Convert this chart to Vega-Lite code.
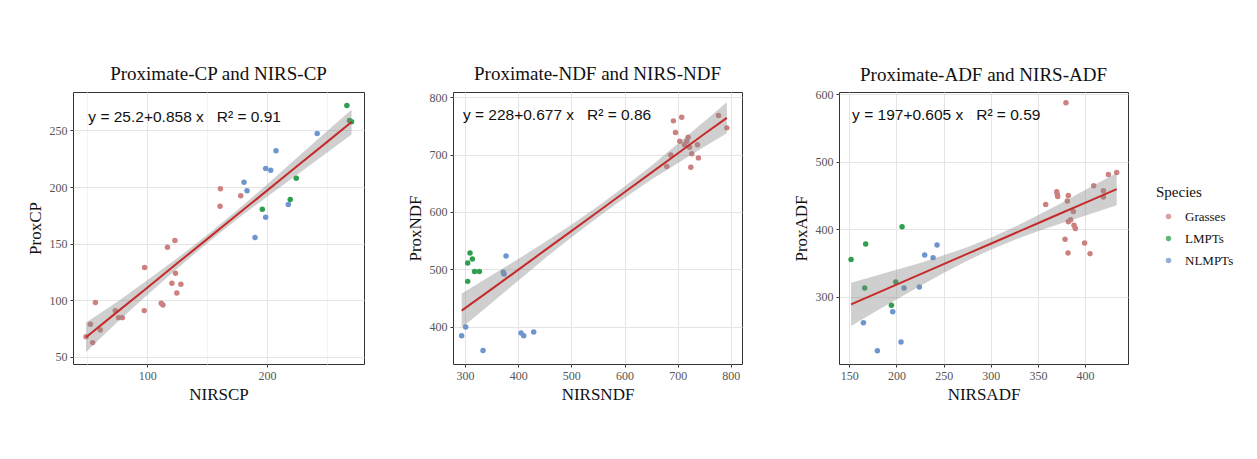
{
  "$schema": "https://vega.github.io/schema/vega-lite/v6.json",
  "background": "white",
  "padding": {"left": 25, "top": 64, "right": 5, "bottom": 5},
  "datasets": {
    "cp": [
      {"nirs": 48.9, "prox": 67.7, "species": "Grasses"},
      {"nirs": 52.5, "prox": 78.6, "species": "Grasses"},
      {"nirs": 54.4, "prox": 62.4, "species": "Grasses"},
      {"nirs": 56.7, "prox": 97.8, "species": "Grasses"},
      {"nirs": 60.8, "prox": 73.6, "species": "Grasses"},
      {"nirs": 73.3, "prox": 90.7, "species": "Grasses"},
      {"nirs": 76.1, "prox": 84.5, "species": "Grasses"},
      {"nirs": 79.2, "prox": 84.5, "species": "Grasses"},
      {"nirs": 97.5, "prox": 90.7, "species": "Grasses"},
      {"nirs": 97.8, "prox": 128.8, "species": "Grasses"},
      {"nirs": 111.7, "prox": 97.2, "species": "Grasses"},
      {"nirs": 113.1, "prox": 95.7, "species": "Grasses"},
      {"nirs": 116.9, "prox": 146.8, "species": "Grasses"},
      {"nirs": 120.6, "prox": 114.9, "species": "Grasses"},
      {"nirs": 123.1, "prox": 152.7, "species": "Grasses"},
      {"nirs": 123.6, "prox": 123.7, "species": "Grasses"},
      {"nirs": 124.7, "prox": 106.3, "species": "Grasses"},
      {"nirs": 128.1, "prox": 114.0, "species": "Grasses"},
      {"nirs": 160.8, "prox": 183.0, "species": "Grasses"},
      {"nirs": 161.1, "prox": 198.4, "species": "Grasses"},
      {"nirs": 178.1, "prox": 192.2, "species": "Grasses"},
      {"nirs": 180.8, "prox": 204.3, "species": "NLMPTs"},
      {"nirs": 183.3, "prox": 196.6, "species": "NLMPTs"},
      {"nirs": 190.0, "prox": 155.3, "species": "NLMPTs"},
      {"nirs": 198.9, "prox": 216.4, "species": "NLMPTs"},
      {"nirs": 198.9, "prox": 173.3, "species": "NLMPTs"},
      {"nirs": 203.1, "prox": 214.9, "species": "NLMPTs"},
      {"nirs": 207.5, "prox": 232.0, "species": "NLMPTs"},
      {"nirs": 217.8, "prox": 184.5, "species": "NLMPTs"},
      {"nirs": 241.9, "prox": 247.3, "species": "NLMPTs"},
      {"nirs": 196.1, "prox": 180.4, "species": "LMPTs"},
      {"nirs": 219.4, "prox": 188.9, "species": "LMPTs"},
      {"nirs": 224.4, "prox": 207.8, "species": "LMPTs"},
      {"nirs": 266.7, "prox": 272.1, "species": "LMPTs"},
      {"nirs": 268.9, "prox": 258.8, "species": "LMPTs"},
      {"nirs": 270.6, "prox": 257.7, "species": "LMPTs"}
    ],
    "cpband": [
      {"nirs": 48.9, "fit": 67.2, "lo": 54.2, "hi": 80.2},
      {"nirs": 75, "fit": 89.6, "lo": 80.6, "hi": 98.6},
      {"nirs": 100, "fit": 111.0, "lo": 104.5, "hi": 117.5},
      {"nirs": 125, "fit": 132.5, "lo": 128.0, "hi": 137.0},
      {"nirs": 150, "fit": 153.9, "lo": 150.2, "hi": 157.6},
      {"nirs": 175, "fit": 175.4, "lo": 171.4, "hi": 179.4},
      {"nirs": 200, "fit": 196.8, "lo": 191.3, "hi": 202.3},
      {"nirs": 225, "fit": 218.3, "lo": 210.8, "hi": 225.8},
      {"nirs": 250, "fit": 239.7, "lo": 230.2, "hi": 249.2},
      {"nirs": 270.6, "fit": 257.4, "lo": 246.4, "hi": 268.4}
    ],
    "ndf": [
      {"nirs": 309.4, "prox": 528.5, "species": "LMPTs"},
      {"nirs": 313.8, "prox": 518, "species": "LMPTs"},
      {"nirs": 305, "prox": 511, "species": "LMPTs"},
      {"nirs": 318, "prox": 496, "species": "LMPTs"},
      {"nirs": 327, "prox": 496, "species": "LMPTs"},
      {"nirs": 305, "prox": 479, "species": "LMPTs"},
      {"nirs": 377.2, "prox": 523.3, "species": "NLMPTs"},
      {"nirs": 372, "prox": 494.8, "species": "NLMPTs"},
      {"nirs": 373.4, "prox": 491.9, "species": "NLMPTs"},
      {"nirs": 301.3, "prox": 399.4, "species": "NLMPTs"},
      {"nirs": 293.7, "prox": 384.3, "species": "NLMPTs"},
      {"nirs": 333.9, "prox": 358.7, "species": "NLMPTs"},
      {"nirs": 405.4, "prox": 389, "species": "NLMPTs"},
      {"nirs": 410.4, "prox": 384.3, "species": "NLMPTs"},
      {"nirs": 429.2, "prox": 390.7, "species": "NLMPTs"},
      {"nirs": 692, "prox": 758.7, "species": "Grasses"},
      {"nirs": 707.6, "prox": 765.1, "species": "Grasses"},
      {"nirs": 695.9, "prox": 738.4, "species": "Grasses"},
      {"nirs": 704, "prox": 723.3, "species": "Grasses"},
      {"nirs": 679.5, "prox": 679, "species": "Grasses"},
      {"nirs": 687, "prox": 699.4, "species": "Grasses"},
      {"nirs": 717.2, "prox": 723.3, "species": "Grasses"},
      {"nirs": 719.7, "prox": 730.2, "species": "Grasses"},
      {"nirs": 722.2, "prox": 712.8, "species": "Grasses"},
      {"nirs": 726.5, "prox": 701.2, "species": "Grasses"},
      {"nirs": 724.7, "prox": 677.9, "species": "Grasses"},
      {"nirs": 737.3, "prox": 716.9, "species": "Grasses"},
      {"nirs": 739, "prox": 694.2, "species": "Grasses"},
      {"nirs": 776.8, "prox": 768, "species": "Grasses"},
      {"nirs": 792.5, "prox": 746.5, "species": "Grasses"},
      {"nirs": 712.8, "prox": 716.9, "species": "Grasses"}
    ],
    "ndfband": [
      {"nirs": 293.7, "fit": 428, "lo": 398, "hi": 458},
      {"nirs": 350, "fit": 465.5, "lo": 441.5, "hi": 489.5},
      {"nirs": 400, "fit": 499, "lo": 480, "hi": 518},
      {"nirs": 450, "fit": 533, "lo": 519, "hi": 547},
      {"nirs": 500, "fit": 566.5, "lo": 555.5, "hi": 577.5},
      {"nirs": 550, "fit": 600.4, "lo": 590.9, "hi": 609.9},
      {"nirs": 600, "fit": 634.2, "lo": 624.2, "hi": 644.2},
      {"nirs": 650, "fit": 668.1, "lo": 656.1, "hi": 680.1},
      {"nirs": 700, "fit": 701.9, "lo": 684.9, "hi": 718.9},
      {"nirs": 750, "fit": 735.8, "lo": 713.8, "hi": 757.8},
      {"nirs": 792.5, "fit": 764, "lo": 737, "hi": 791}
    ],
    "adf": [
      {"nirs": 151.8, "prox": 355, "species": "LMPTs"},
      {"nirs": 167.3, "prox": 378, "species": "LMPTs"},
      {"nirs": 166.3, "prox": 313, "species": "LMPTs"},
      {"nirs": 205.9, "prox": 403.7, "species": "LMPTs"},
      {"nirs": 194.6, "prox": 287.6, "species": "LMPTs"},
      {"nirs": 199.2, "prox": 322, "species": "LMPTs"},
      {"nirs": 164.9, "prox": 261.5, "species": "NLMPTs"},
      {"nirs": 179.7, "prox": 220.2, "species": "NLMPTs"},
      {"nirs": 196, "prox": 277.7, "species": "NLMPTs"},
      {"nirs": 204.8, "prox": 233, "species": "NLMPTs"},
      {"nirs": 208, "prox": 313, "species": "NLMPTs"},
      {"nirs": 224.3, "prox": 314.6, "species": "NLMPTs"},
      {"nirs": 229.9, "prox": 361.9, "species": "NLMPTs"},
      {"nirs": 238.8, "prox": 357.9, "species": "NLMPTs"},
      {"nirs": 243, "prox": 376.6, "species": "NLMPTs"},
      {"nirs": 379.8, "prox": 587.2, "species": "Grasses"},
      {"nirs": 358.3, "prox": 436.7, "species": "Grasses"},
      {"nirs": 370, "prox": 455.4, "species": "Grasses"},
      {"nirs": 370.6, "prox": 451.4, "species": "Grasses"},
      {"nirs": 371, "prox": 448.5, "species": "Grasses"},
      {"nirs": 382.3, "prox": 450, "species": "Grasses"},
      {"nirs": 381.2, "prox": 441.6, "species": "Grasses"},
      {"nirs": 387.6, "prox": 426.3, "species": "Grasses"},
      {"nirs": 384.8, "prox": 414, "species": "Grasses"},
      {"nirs": 382.3, "prox": 411, "species": "Grasses"},
      {"nirs": 388.3, "prox": 406, "species": "Grasses"},
      {"nirs": 389.7, "prox": 401, "species": "Grasses"},
      {"nirs": 378.8, "prox": 385, "species": "Grasses"},
      {"nirs": 382, "prox": 364.8, "species": "Grasses"},
      {"nirs": 399.6, "prox": 379.6, "species": "Grasses"},
      {"nirs": 405.3, "prox": 363.8, "species": "Grasses"},
      {"nirs": 409.2, "prox": 464.2, "species": "Grasses"},
      {"nirs": 419.5, "prox": 456.8, "species": "Grasses"},
      {"nirs": 419.5, "prox": 447.5, "species": "Grasses"},
      {"nirs": 424.8, "prox": 480.9, "species": "Grasses"},
      {"nirs": 433.6, "prox": 483.9, "species": "Grasses"}
    ],
    "adfband": [
      {"nirs": 151.8, "fit": 288.8, "lo": 256.8, "hi": 320.8},
      {"nirs": 175, "fit": 302.9, "lo": 275.9, "hi": 329.9},
      {"nirs": 200, "fit": 318, "lo": 296, "hi": 340},
      {"nirs": 225, "fit": 333.1, "lo": 316.1, "hi": 350.1},
      {"nirs": 250, "fit": 348.3, "lo": 335.3, "hi": 361.3},
      {"nirs": 275, "fit": 363.4, "lo": 353.4, "hi": 373.4},
      {"nirs": 300, "fit": 378.5, "lo": 369.5, "hi": 387.5},
      {"nirs": 325, "fit": 393.6, "lo": 384.1, "hi": 403.1},
      {"nirs": 350, "fit": 408.8, "lo": 396.8, "hi": 420.8},
      {"nirs": 375, "fit": 423.9, "lo": 408.9, "hi": 438.9},
      {"nirs": 400, "fit": 439, "lo": 420, "hi": 458},
      {"nirs": 433.6, "fit": 459.3, "lo": 435.3, "hi": 483.3}
    ]
  },
  "bounds": "flush",
  "spacing": 89,
  "resolve": {"scale": {"color": "independent"}},
  "hconcat": [
    {
      "width": 291, "height": 272,
      "title": {"text": "Proximate-CP and NIRS-CP"},
      "resolve": {"axis": {"y": "independent"}},
      "layer": [
        {
          "data": {"name": "cp"},
          "mark": {"type": "circle", "size": 30, "opacity": 1},
          "encoding": {
            "x": {"field": "nirs", "type": "quantitative", "scale": {"domain": [38, 281], "nice": false, "zero": false},
              "axis": {"title": "NIRSCP", "values": [50, 100, 150, 200, 250],
                "labelExpr": "datum.value % 100 == 0 ? datum.label : ''",
                "tickOpacity": {"condition": {"test": "datum.value % 100 == 0", "value": 1}, "value": 0},
                "gridColor": {"condition": {"test": "datum.value % 100 == 0", "value": "#e4e4e4"}, "value": "#f2f2f2"}}},
            "y": {"field": "prox", "type": "quantitative", "scale": {"domain": [43.5, 284], "nice": false, "zero": false},
              "axis": {"title": "ProxCP", "values": [50, 100, 150, 200, 250]}},
            "color": {"field": "species", "type": "nominal", "scale": {"domain": ["Grasses", "LMPTs", "NLMPTs"], "range": ["#cd8080", "#2f9e4f", "#6e95cf"]}, "legend": null}
          }
        },
        {
          "data": {"name": "cpband"},
          "mark": {"type": "area", "color": "#888888", "opacity": 0.4},
          "encoding": {
            "x": {"field": "nirs", "type": "quantitative"},
            "y": {"field": "lo", "type": "quantitative", "axis": {"orient": "right", "values": [75, 125, 175, 225, 275], "title": null, "labels": false, "ticks": false, "domain": false, "gridColor": "#f2f2f2", "minExtent": 0}},
            "y2": {"field": "hi"}}
        },
        {
          "data": {"name": "cpband"},
          "mark": {"type": "line", "color": "#c62a2a", "strokeWidth": 2},
          "encoding": {"x": {"field": "nirs", "type": "quantitative"}, "y": {"field": "fit", "type": "quantitative", "axis": null}}
        },
        {
          "data": {"values": [{"nirs": 50.8, "prox": 261.5, "label": "y = 25.2+0.858 x\u00a0\u00a0\u00a0R² = 0.91"}]},
          "mark": {"type": "text", "align": "left", "baseline": "middle", "font": "Liberation Sans", "fontSize": 15.5, "color": "#111"},
          "encoding": {"x": {"field": "nirs", "type": "quantitative"}, "y": {"field": "prox", "type": "quantitative", "axis": null}, "text": {"field": "label"}}
        }
      ]
    },
    {
      "bounds": "flush",
      "spacing": 97,
      "resolve": {"scale": {"color": "independent"}},
      "hconcat": [
        {
          "width": 289, "height": 272,
          "title": {"text": "Proximate-NDF and NIRS-NDF", "dy": 1},
          "resolve": {"axis": {"y": "independent"}},
          "layer": [
            {
              "data": {"name": "ndf"},
              "mark": {"type": "circle", "size": 30, "opacity": 1},
              "encoding": {
                "x": {"field": "nirs", "type": "quantitative", "scale": {"domain": [277.4, 821], "nice": false, "zero": false},
                  "axis": {"title": "NIRSNDF", "values": [300, 350, 400, 450, 500, 550, 600, 650, 700, 750, 800],
                    "labelExpr": "datum.value % 100 == 0 ? datum.label : ''",
                    "tickOpacity": {"condition": {"test": "datum.value % 100 == 0", "value": 1}, "value": 0},
                    "gridColor": {"condition": {"test": "datum.value % 100 == 0", "value": "#e4e4e4"}, "value": "#f2f2f2"}}},
                "y": {"field": "prox", "type": "quantitative", "scale": {"domain": [335, 809], "nice": false, "zero": false},
                  "axis": {"title": "ProxNDF", "values": [400, 500, 600, 700, 800]}},
                "color": {"field": "species", "type": "nominal", "scale": {"domain": ["Grasses", "LMPTs", "NLMPTs"], "range": ["#cd8080", "#2f9e4f", "#6e95cf"]}, "legend": null}
              }
            },
            {
              "data": {"name": "ndfband"},
              "mark": {"type": "area", "color": "#888888", "opacity": 0.4},
              "encoding": {
                "x": {"field": "nirs", "type": "quantitative"},
                "y": {"field": "lo", "type": "quantitative", "axis": {"orient": "right", "values": [350, 450, 550, 650, 750], "title": null, "labels": false, "ticks": false, "domain": false, "gridColor": "#f2f2f2", "minExtent": 0}},
                "y2": {"field": "hi"}}
            },
            {
              "data": {"name": "ndfband"},
              "mark": {"type": "line", "color": "#c62a2a", "strokeWidth": 2},
              "encoding": {"x": {"field": "nirs", "type": "quantitative"}, "y": {"field": "fit", "type": "quantitative", "axis": null}}
            },
            {
              "data": {"values": [{"nirs": 296, "prox": 769, "label": "y = 228+0.677 x\u00a0\u00a0\u00a0R² = 0.86"}]},
              "mark": {"type": "text", "align": "left", "baseline": "middle", "font": "Liberation Sans", "fontSize": 15.5, "color": "#111"},
              "encoding": {"x": {"field": "nirs", "type": "quantitative"}, "y": {"field": "prox", "type": "quantitative", "axis": null}, "text": {"field": "label"}}
            }
          ]
        },
        {
          "width": 289, "height": 272,
          "title": {"text": "Proximate-ADF and NIRS-ADF", "dy": 4.5},
          "resolve": {"axis": {"y": "independent"}},
          "layer": [
            {
              "data": {"name": "adf"},
              "mark": {"type": "circle", "size": 30, "opacity": 1},
              "encoding": {
                "x": {"field": "nirs", "type": "quantitative", "scale": {"domain": [139, 445.6], "nice": false, "zero": false},
                  "axis": {"title": "NIRSADF", "values": [150, 175, 200, 225, 250, 275, 300, 325, 350, 375, 400, 425],
                    "labelExpr": "datum.value % 50 == 0 ? datum.label : ''",
                    "tickOpacity": {"condition": {"test": "datum.value % 50 == 0", "value": 1}, "value": 0},
                    "gridColor": {"condition": {"test": "datum.value % 50 == 0", "value": "#e4e4e4"}, "value": "#f2f2f2"}}},
                "y": {"field": "prox", "type": "quantitative", "scale": {"domain": [200.5, 603], "nice": false, "zero": false},
                  "axis": {"title": "ProxADF", "values": [200, 300, 400, 500, 600]}},
                "color": {"field": "species", "type": "nominal", "title": "Species", "scale": {"domain": ["Grasses", "LMPTs", "NLMPTs"], "range": ["#cd8080", "#2f9e4f", "#6e95cf"]},
                  "legend": {"orient": "none", "legendX": 317, "legendY": 93, "padding": 0, "symbolOffset": 6, "labelOffset": 10, "titlePadding": 10, "rowPadding": 8, "symbolSize": 30, "symbolOpacity": 0.75}}
              }
            },
            {
              "data": {"name": "adfband"},
              "mark": {"type": "area", "color": "#888888", "opacity": 0.4},
              "encoding": {
                "x": {"field": "nirs", "type": "quantitative"},
                "y": {"field": "lo", "type": "quantitative", "axis": {"orient": "right", "values": [250, 350, 450, 550], "title": null, "labels": false, "ticks": false, "domain": false, "gridColor": "#f2f2f2", "minExtent": 0}},
                "y2": {"field": "hi"}}
            },
            {
              "data": {"name": "adfband"},
              "mark": {"type": "line", "color": "#c62a2a", "strokeWidth": 2},
              "encoding": {"x": {"field": "nirs", "type": "quantitative"}, "y": {"field": "fit", "type": "quantitative", "axis": null}}
            },
            {
              "data": {"values": [{"nirs": 152.9, "prox": 569, "label": "y = 197+0.605 x\u00a0\u00a0\u00a0R² = 0.59"}]},
              "mark": {"type": "text", "align": "left", "baseline": "middle", "font": "Liberation Sans", "fontSize": 15.5, "color": "#111"},
              "encoding": {"x": {"field": "nirs", "type": "quantitative"}, "y": {"field": "prox", "type": "quantitative", "axis": null}, "text": {"field": "label"}}
            }
          ]
        }
      ]
    }
  ],
  "config": {
    "view": {"stroke": "#333333", "strokeWidth": 1},
    "axis": {"domain": false, "labelOverlap": false, "gridColor": "#e4e4e4", "tickColor": "#333333", "tickSize": 3, "labelFont": "Liberation Serif", "labelFontSize": 12, "labelColor": "#555555", "labelPadding": 3, "titleFont": "Liberation Serif", "titleFontSize": 17, "titleFontWeight": "normal", "titleColor": "#111111", "titlePadding": 5},
    "title": {"font": "Liberation Serif", "fontSize": 19, "fontWeight": "normal", "color": "#111111", "offset": 8},
    "legend": {"titleFont": "Liberation Serif", "titleFontSize": 15, "titleFontWeight": "normal", "titleColor": "#111111", "labelFont": "Liberation Serif", "labelFontSize": 13, "labelColor": "#111111"}
  }
}
